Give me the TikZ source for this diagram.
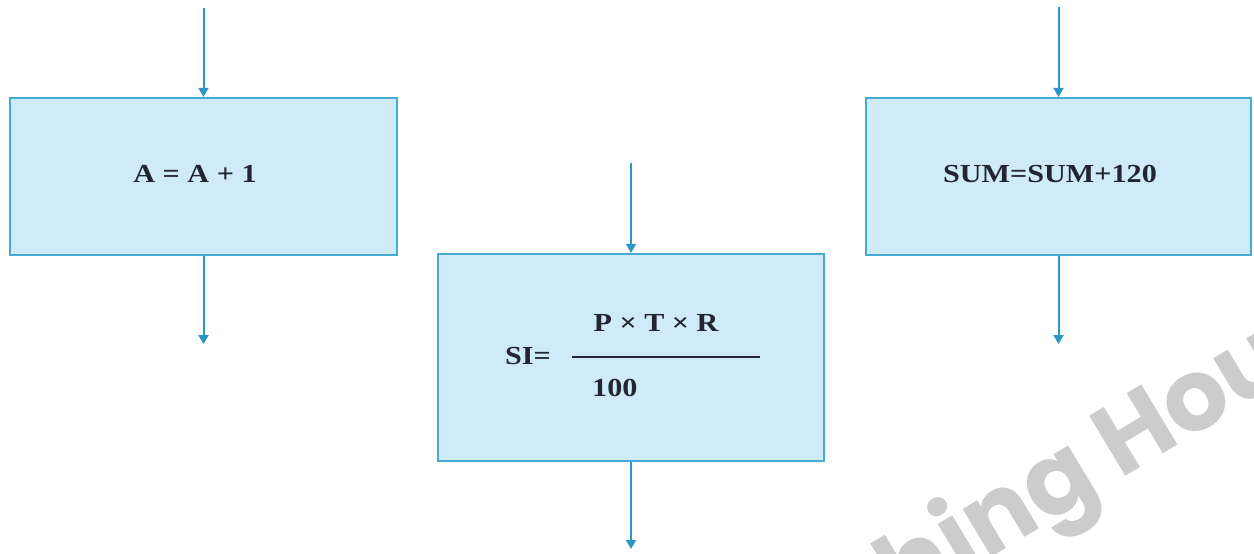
\documentclass[tikz,border=0pt]{standalone}
\usepackage{fontspec}
\setmainfont{Liberation Serif}
\newfontfamily\wmfont{Poppins}
\usetikzlibrary{arrows.meta}
\definecolor{boxfill}{RGB}{206,235,247}
\definecolor{boxline}{RGB}{70,170,210}
\definecolor{arrcol}{RGB}{45,150,200}
\definecolor{txtcol}{RGB}{35,38,48}
\definecolor{wmcol}{RGB}{204,204,204}
\tikzset{
  procbox/.style={draw=boxline, fill=boxfill, line width=2.2pt, inner sep=0pt},
  flow/.style={draw=arrcol, line width=2pt, -{Triangle[width=10pt,length=9pt]}},
  lbl/.style={text=txtcol, inner sep=0pt, xscale=1.16, font=\fontsize{26}{30}\selectfont\bfseries},
  wm/.style={text=wmcol, inner sep=0pt, font=\wmfont\fontsize{100}{110}\selectfont\bfseries}
}
\begin{document}
\begin{tikzpicture}[x=1pt,y=-1pt]
\useasboundingbox (0,0) rectangle (1254,554);
\begin{scope}
\clip (0,0) rectangle (1254,554);
\node[wm, rotate=31] (wmark) at (1086,470) {hing Hou};
\end{scope}
% boxes
\node[procbox, minimum width=387pt, minimum height=157pt] (b1) at (203.5,176.5) {};
\node[procbox, minimum width=386pt, minimum height=207pt] (b2) at (631,357.5) {};
\node[procbox, minimum width=385pt, minimum height=157pt] (b3) at (1058.5,176.5) {};
% arrow ends
\coordinate (i1) at (203.5,8);
\coordinate (o1) at (203.5,344);
\coordinate (i2) at (631,163);
\coordinate (o2) at (631,549);
\coordinate (i3) at (1058.5,7);
\coordinate (o3) at (1058.5,344);
\draw[flow] (i1) -- (b1.north);
\draw[flow] (b1.south) -- (o1);
\draw[flow] (i2) -- (b2.north);
\draw[flow] (b2.south) -- (o2);
\draw[flow] (i3) -- (b3.north);
\draw[flow] (b3.south) -- (o3);
% texts
\node[lbl] (t1) at (195,174) {A = A + 1};
\node[lbl] (t3) at (1050,174) {SUM=SUM+120};
\node[lbl] (si) at (528,356) {SI=};
\node[lbl] (num) at (656,323) {P × T × R};
\node[lbl, anchor=west] (den) at (592,388) {100};
\coordinate (fl) at (572,357);
\coordinate (fr) at (760,357);
\draw[draw=txtcol, line width=1.8pt] (fl) -- (fr);
\end{tikzpicture}
\end{document}
